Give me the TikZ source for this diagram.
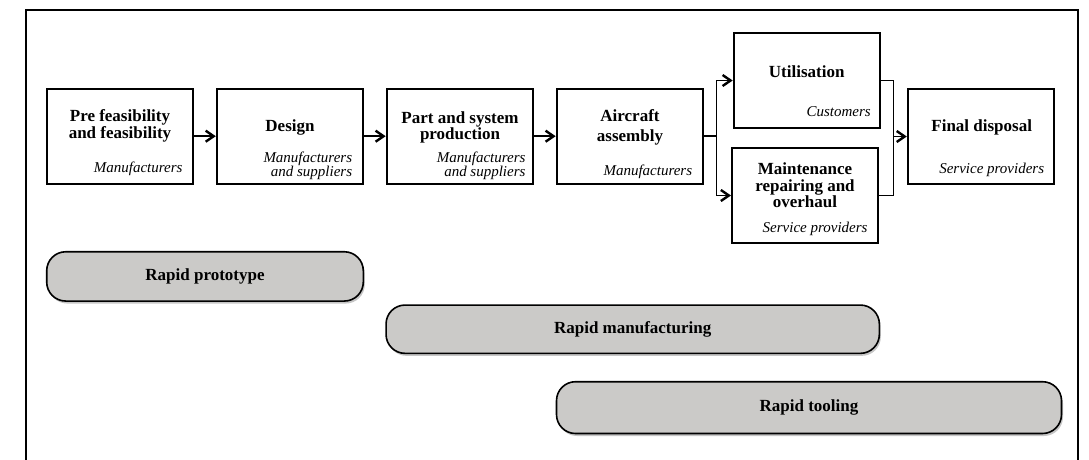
\documentclass[tikz,border=0pt]{standalone}
\usepackage{fontspec}
\setmainfont{Liberation Serif}
\usetikzlibrary{arrows.meta,shadows,calc}
\definecolor{barfill}{RGB}{203,202,200}
\tikzset{
  box/.style={draw, line width=2pt, minimum width=146pt, minimum height=95pt, inner sep=0pt, fill=white,
    drop shadow={shadow xshift=1pt, shadow yshift=-1pt, opacity=0.25}},
  ttl/.style={font=\bfseries\fontsize{17}{16.5}\selectfont, align=center, inner sep=0pt},
  who/.style={font=\itshape\fontsize{15}{12}\selectfont, align=right, inner sep=0pt, anchor=east},
  bar/.style={draw, line width=1.6pt, rounded corners=19pt, fill=barfill, inner sep=0pt,
    font=\bfseries\fontsize{17}{17}\selectfont,
    drop shadow={shadow xshift=1.5pt, shadow yshift=-2.5pt, opacity=0.45}},
  arr/.style={-{Straight Barb[length=8pt,width=11pt,line width=2.4pt]}, line width=1.5pt},
  ln/.style={line width=1.5pt}
}
\begin{document}
\begin{tikzpicture}[x=1pt,y=-1pt]
\useasboundingbox (0,0) rectangle (1089,459);
% frame
\draw[line width=1.6pt] (26,470) -- (26,10) -- (1078,10) -- (1078,470);

% boxes
\node[box] (b1) at (119.8,136.2) {};
\node[box] (b2) at (289.8,136.2) {};
\node[box] (b3) at (459.7,136.2) {};
\node[box] (b4) at (629.7,136.2) {};
\node[box, minimum height=95.6pt] (u) at (806.7,80.5) {};
\node[box, minimum height=94.4pt] (m) at (805,195.5) {};
\node[box] (fd) at (980.8,136.5) {};

% titles
\node[ttl] (t1) at (120,126) {Pre feasibility\\and feasibility};
\node[ttl] (t2) at (290,127.7) {Design};
\node[ttl] (t3) at (460,127.5) {Part and system\\production};
\node[ttl, font=\bfseries\fontsize{17}{20}\selectfont] (t4) at (630,127.3) {Aircraft\\assembly};
\node[ttl] (tu) at (806.7,71.7) {Utilisation};
\node[ttl] (tm) at (805,185.5) {Maintenance\\repairing and\\overhaul};
\node[ttl] (tf) at (981.7,127.7) {Final disposal};

% actors
\node[who] (w1) at (182.7,169) {Manufacturers};
\node[who] (w2) at (352.3,166) {Manufacturers\\and suppliers};
\node[who] (w3) at (525.7,166) {Manufacturers\\and suppliers};
\node[who] (w4) at (692.3,171.7) {Manufacturers};
\node[who] (wu) at (871,111.7) {Customers};
\node[who] (wm) at (867.7,229) {Service providers};
\node[who] (wf) at (1044.3,170) {Service providers};

% connectors
\draw[arr] (b1) -- (b2);
\draw[arr] (b2) -- (b3);
\draw[arr] (b3) -- (b4);
\coordinate (s) at (716.7,136.2);
\draw[ln] (b4.east) -- (s);
\draw[arr] (s) |- (u.west);
\draw[arr] (s) |- (m.west);
\coordinate (j) at (893.3,136.5);
\draw[ln] (u.east) -- (u.east -| j) -- (m.east -| j) -- (m.east);
\draw[arr] (j) -- (fd.west);

% bars
\node[bar, minimum width=316.6pt, minimum height=49.3pt] (r1) at (205,276.4) {Rapid prototype};
\node[bar, minimum width=493.3pt, minimum height=48.3pt] (r2) at (632.7,329.2) {Rapid manufacturing};
\node[bar, minimum width=505pt, minimum height=51.8pt] (r3) at (809,407.6) {Rapid tooling};
\end{tikzpicture}
\end{document}
